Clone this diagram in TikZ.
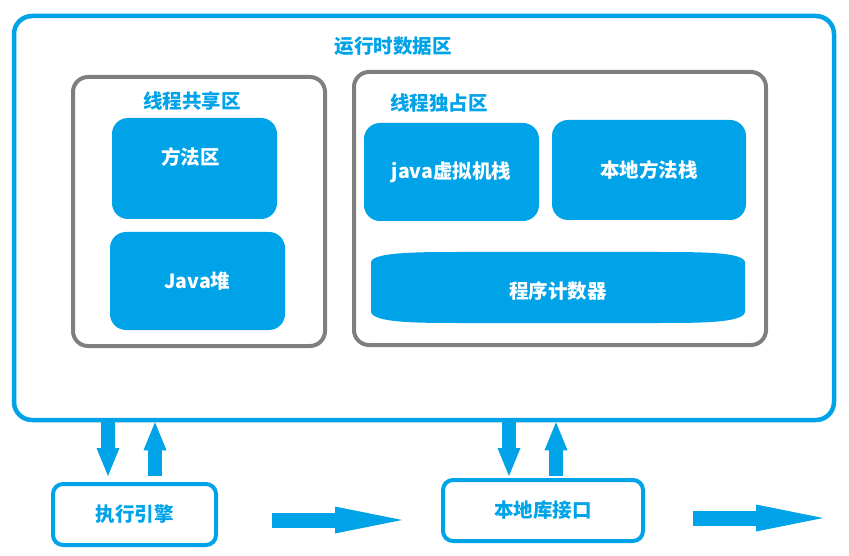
\documentclass[tikz,border=0pt]{standalone}
\usepackage{fontspec}
\setmainfont{Noto Sans CJK SC}
\usepackage{xcolor}
\usepackage{tikz}
\usetikzlibrary{arrows.meta}

\definecolor{jvmblue}{RGB}{0,163,232}
\definecolor{jvmgray}{RGB}{127,127,127}

\begin{document}
\begin{tikzpicture}[x=1pt,y=-1pt,
            font=\fontsize{19.5}{22}\selectfont\bfseries,
            outer/.style = {draw=jvmblue,
                        line width=4.5pt,
                        rounded corners=18pt,
                        inner sep=0pt},
            zone/.style = {draw=jvmgray,
                        line width=4pt,
                        rounded corners=15pt,
                        inner sep=0pt},
            area/.style = {fill=jvmblue,
                        text=white,
                        rounded corners=16pt,
                        inner sep=0pt},
            iobox/.style = {draw=jvmblue,
                        line width=4pt,
                        rounded corners=10pt,
                        text=jvmblue,
                        inner sep=0pt},
            title/.style = {text=jvmblue},
            vflow/.style = {jvmblue, line width=14pt,
                        -{Triangle[length=28pt,width=23pt,line width=0pt]}},
            hflow/.style = {jvmblue, line width=15pt,
                        -{Triangle[length=67pt,width=27pt,line width=0pt]}}]
            \useasboundingbox (0,0) rectangle (849,556);
            % Runtime data area
            \node[outer,minimum width=820pt,minimum height=404pt] (rtda) at (424,218) {};
            \node[title] (rtdatitle) at (393,46) {运行时数据区};
            % Shared area
            \node[zone,minimum width=252pt,minimum height=269pt] (shared) at (199,211.5) {};
            \node[title] (sharedtitle) at (192,101) {线程共享区};
            \node[area,minimum width=165pt,minimum height=101pt,
                  label={[text=white,xshift=-4pt,yshift=12pt]center:方法区}] (method) at (194.5,168.5) {};
            \node[area,minimum width=175pt,minimum height=98pt] (heap) at (197.5,281) {Java堆};
            % Private area
            \node[zone,minimum width=412pt,minimum height=273pt] (private) at (560,208.5) {};
            \node[title] (privatetitle) at (439,103) {线程独占区};
            \node[area,minimum width=175pt,minimum height=98pt] (jstack) at (451.5,172) {java虚拟机栈};
            \node[area,minimum width=194pt,minimum height=100pt] (nstack) at (649,170) {本地方法栈};
            % Program counter
            \fill[jvmblue] (371,262) .. controls (373,252) and (420,252) .. (460,252) -- (656,252)
                .. controls (700,252) and (743,252) .. (745,262) -- (745,312)
                .. controls (743,323) and (700,323) .. (656,323) -- (460,323)
                .. controls (420,323) and (373,323) .. (371,312) -- cycle;
            \node[text=white] (pc) at (558,291) {程序计数器};
            % Engine and native interface
            \node[iobox,minimum width=163pt,minimum height=61pt] (engine) at (134.5,514.5) {执行引擎};
            \node[iobox,minimum width=200pt,minimum height=61pt] (native) at (543,510.5) {本地库接口};
            % Arrow ends
            \coordinate (d1) at (108,476);
            \coordinate (u1) at (155,476);
            \coordinate (d2) at (509,476);
            \coordinate (u2) at (556,476);
            \coordinate (h1s) at (272,520);
            \coordinate (h1e) at (402,520);
            \coordinate (h2s) at (693,518);
            \coordinate (h2e) at (823,518);
            % Arrows
            \draw[vflow] (d1 |- rtda.south) -- (d1);
            \draw[vflow] (u1) -- (u1 |- rtda.south);
            \draw[vflow] (d2 |- rtda.south) -- (d2);
            \draw[vflow] (u2) -- (u2 |- rtda.south);
            \draw[hflow] (h1s) -- (h1e);
            \draw[hflow] (h2s) -- (h2e);
        \end{tikzpicture}
\end{document}
